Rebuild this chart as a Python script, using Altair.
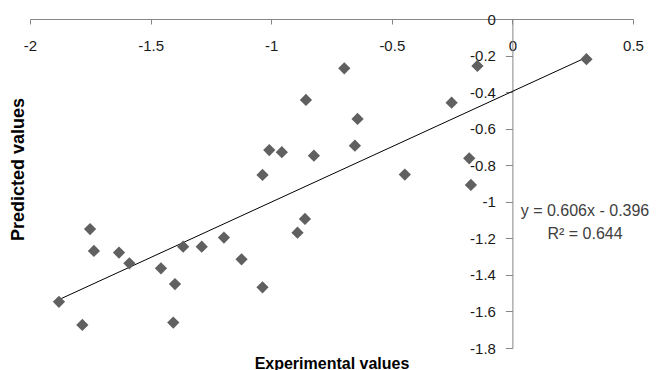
import altair as alt
import pandas as pd

# Data
exp_values = [0.307, -0.145, -0.697, -0.856, -0.252, -0.642, -0.653, -1.008, -0.956, -0.823,
              -0.179, -1.036, -0.446, -0.172, -0.860, -1.751, -0.891, -1.196, -1.365, -1.288,
              -1.735, -1.631, -1.123, -1.588, -1.457, -1.399, -1.036, -1.880, -1.406, -1.783]
pred_values = [-0.220, -0.257, -0.270, -0.443, -0.458, -0.547, -0.693, -0.717, -0.729, -0.748,
               -0.762, -0.853, -0.851, -0.908, -1.094, -1.149, -1.169, -1.196, -1.246, -1.246,
               -1.269, -1.278, -1.315, -1.337, -1.364, -1.450, -1.468, -1.547, -1.661, -1.674]
x_ticks = [-2, -1.5, -1, -0.5, 0, 0.5]
y_ticks = [-1.8, -1.6, -1.4, -1.2, -1, -0.8, -0.6, -0.4, -0.2, 0]
slope = 0.606
intercept = -0.396
eq_lines = ["y = 0.606x - 0.396", "R² = 0.644"]

pts = pd.DataFrame({"x": exp_values, "y": pred_values})
xmin, xmax = min(exp_values), max(exp_values)
trend = pd.DataFrame({"x": [xmin, xmax], "y": [slope * xmin + intercept, slope * xmax + intercept]})

W, H = 603, 329
X0 = W * 2.0 / 2.5  # pixel position of x = 0
FONT = "Liberation Sans"
AX = "#868686"

x_scale = alt.Scale(domain=[-2, 0.5], nice=False, zero=False)
y_scale = alt.Scale(domain=[-1.8, 0], nice=False, zero=False)

x_axis = alt.Axis(orient="bottom", offset=-H, values=x_ticks, tickCount=len(x_ticks) + 2,
                  labelExpr="toString(datum.value)",
                  grid=False, domainColor=AX, tickColor=AX, tickSize=5,
                  labelFont=FONT, labelFontSize=15, labelColor="#1a1a1a", labelPadding=14,
                  labelFlush=False, labelOverlap=False,
                  title="Experimental values", titleFont=FONT, titleFontSize=16,
                  titleFontWeight="bold", titleColor="#000000", titleX=W / 2, titleY=349,
                  titleAlign="center", titleBaseline="alphabetic")
y_axis = alt.Axis(orient="left", offset=-X0, values=y_ticks, tickCount=len(y_ticks) + 2,
                  labelExpr="toString(datum.value)",
                  grid=False, domainColor=AX, tickColor=AX, tickSize=7,
                  labelFont=FONT, labelFontSize=15, labelColor="#1a1a1a", labelPadding=10,
                  labelFlush=False, labelOverlap=False,
                  title="Predicted values", titleFont=FONT, titleFontSize=18,
                  titleFontWeight="bold", titleColor="#000000", titleX=-12 - X0, titleY=150,
                  titleAngle=270, titleAlign="center", titleBaseline="middle")

points = alt.Chart(pts).mark_point(shape="diamond", filled=True, size=150, color="#606060",
                                   opacity=1).encode(
    x=alt.X("x:Q", scale=x_scale, axis=x_axis),
    y=alt.Y("y:Q", scale=y_scale, axis=y_axis),
)

line = alt.Chart(trend).mark_line(color="#000000", strokeWidth=1).encode(
    x=alt.X("x:Q", scale=x_scale),
    y=alt.Y("y:Q", scale=y_scale),
)

eq1 = alt.Chart(pd.DataFrame({"label": [eq_lines[0]]})).mark_text(
    align="center", baseline="middle", font=FONT, fontSize=16, color="#404040"
).encode(x=alt.value(555), y=alt.value(192), text="label:N")
eq2 = alt.Chart(pd.DataFrame({"label": [eq_lines[1]]})).mark_text(
    align="center", baseline="middle", font=FONT, fontSize=16, color="#404040"
).encode(x=alt.value(555), y=alt.value(215), text="label:N")

chart = alt.layer(line, points, eq1, eq2).properties(
    width=W, height=H,
    autosize=alt.AutoSizeParams(type="none"),
    padding={"left": 22, "top": 11, "right": 19, "bottom": 22},
).configure_view(stroke=None)

chart.save("out.html", embed_options={"renderer": "svg", "actions": False})
